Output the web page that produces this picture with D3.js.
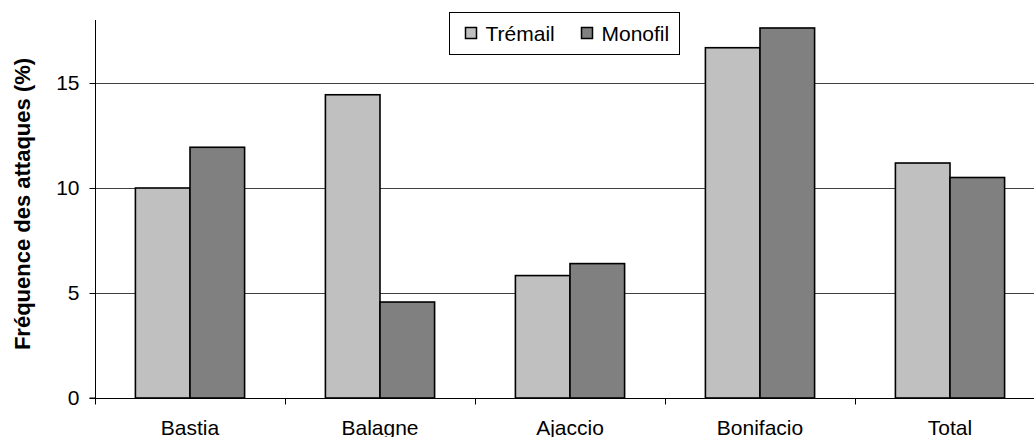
<!DOCTYPE html>
<html>
<head>
<meta charset="utf-8">
<script src="https://cdn.jsdelivr.net/npm/d3@7"></script>
<style>
  html, body { margin: 0; padding: 0; background: #fff; }
  svg { display: block; }
  text { font-family: "Liberation Sans", Arial, sans-serif; fill: #000; }
</style>
</head>
<body>
<svg id="chart" width="1034" height="437"></svg>
<script>
// Sites and gear types
const sites = ["Bastia", "Balagne", "Ajaccio", "Bonifacio", "Total"];
const gears = ["Trémail", "Monofil"];
const tremail = [10.0, 14.44, 5.83, 16.68, 11.19];
const monofil = [11.94, 4.57, 6.40, 17.62, 10.50];
const yTicks = [0, 5, 10, 15];
const gearColors = ["#c0c0c0", "#808080"];

const rows = sites.map((s, i) => ({ site: s, values: [tremail[i], monofil[i]] }));

const svg = d3.select("#chart");
const margin = { left: 95, top: 20, bottom: 39 };
const plotRight = 1045; // plot area runs past the right edge of the frame
const H = 437;

const x0 = d3.scaleBand().domain(sites).range([margin.left, plotRight]).padding(0);
const x1 = d3.scaleBand().domain(gears).range([0, x0.bandwidth()]).paddingInner(0).paddingOuter(0.74);
const y = d3.scaleLinear().domain([0, 18]).range([H - margin.bottom, margin.top]);

// Horizontal gridlines
svg.append("g")
  .selectAll("line")
  .data(yTicks.filter(d => d > 0))
  .join("line")
  .attr("x1", margin.left).attr("x2", plotRight)
  .attr("y1", d => Math.round(y(d)) + 0.5).attr("y2", d => Math.round(y(d)) + 0.5)
  .attr("stroke", "#404040").attr("stroke-width", 1);

// Bars
const groups = svg.append("g")
  .selectAll("g")
  .data(rows)
  .join("g")
  .attr("transform", d => `translate(${x0(d.site)},0)`);

groups.selectAll("rect")
  .data(d => d.values.map((v, k) => ({ gear: gears[k], value: v, k })))
  .join("rect")
  .attr("x", d => x1(d.gear))
  .attr("y", d => y(d.value))
  .attr("width", x1.bandwidth())
  .attr("height", d => y(0) - y(d.value))
  .attr("fill", d => gearColors[d.k])
  .attr("stroke", "#000")
  .attr("stroke-width", 1.6);

// Y axis
const yAxis = d3.axisLeft(y).tickValues(yTicks).tickSize(6).tickPadding(10).tickFormat(d3.format("d"));
const gy = svg.append("g")
  .attr("transform", `translate(${margin.left + 0.5},0)`)
  .call(yAxis);
gy.select(".domain").attr("stroke", "#000").attr("d", `M-6,${y(0)}H0V${margin.top}`);
gy.selectAll(".tick line").attr("stroke", "#000");
gy.selectAll(".tick text").attr("font-size", 21).attr("font-family", "Liberation Sans, Arial, sans-serif");

// X axis with ticks at category boundaries
const gx = svg.append("g")
  .attr("transform", `translate(0,${Math.round(y(0)) + 0.5})`);
gx.append("line")
  .attr("x1", margin.left).attr("x2", plotRight)
  .attr("stroke", "#000");
gx.selectAll("line.bound")
  .data(sites.map(s => x0(s)).concat([plotRight]))
  .join("line")
  .attr("class", "bound")
  .attr("x1", d => Math.round(d) + 0.5).attr("x2", d => Math.round(d) + 0.5)
  .attr("y1", 0).attr("y2", 6)
  .attr("stroke", "#000");
gx.selectAll("text")
  .data(sites)
  .join("text")
  .attr("x", d => x0(d) + x1("Monofil"))
  .attr("y", 36)
  .attr("text-anchor", "middle")
  .attr("font-size", 21)
  .text(d => d);

// Y axis title
svg.append("text")
  .attr("transform", "translate(30,204) rotate(-90)")
  .attr("text-anchor", "middle")
  .attr("font-size", 22)
  .attr("font-weight", "bold")
  .text("Fréquence des attaques (%)");

// Legend
const legend = svg.append("g").attr("transform", "translate(449.5,12.5)");
legend.append("rect")
  .attr("width", 230).attr("height", 42)
  .attr("fill", "#fff").attr("stroke", "#000");
const items = legend.selectAll("g.item")
  .data(gears)
  .join("g")
  .attr("class", "item")
  .attr("transform", (d, i) => `translate(${[16, 132][i]},0)`);
items.append("rect")
  .attr("y", 15).attr("width", 11).attr("height", 11)
  .attr("fill", (d, i) => gearColors[i])
  .attr("stroke", "#000").attr("stroke-width", 1.5);
items.append("text")
  .attr("x", 20).attr("y", 28)
  .attr("font-size", 21)
  .text(d => d);
</script>
</body>
</html>
